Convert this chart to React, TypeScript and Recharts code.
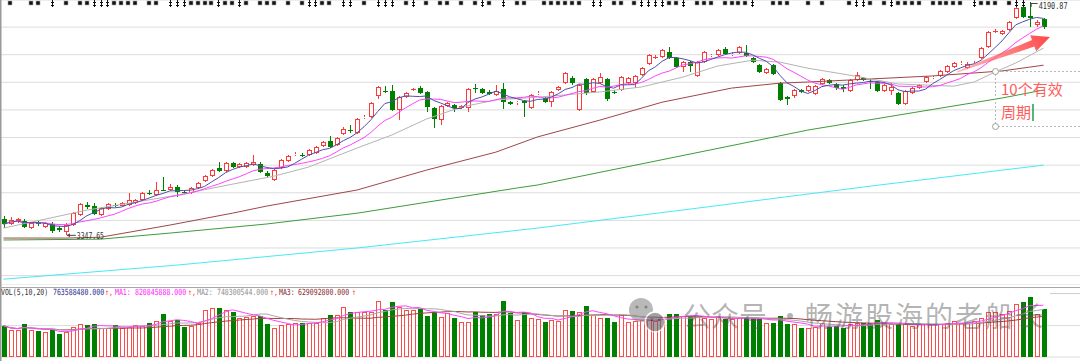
import { ComposedChart, Bar, Line, XAxis, YAxis, CartesianGrid, ReferenceDot } from 'recharts'

// daily candles, oldest first
const OPEN = [
  3405, 3386, 3397, 3397, 3372, 3390, 3376, 3386, 3372, 3357,
  3383, 3419, 3455, 3452, 3419, 3441, 3455, 3452, 3455, 3462,
  3473, 3499, 3492, 3510, 3510, 3520, 3504, 3499, 3517, 3542,
  3560, 3589, 3578, 3607, 3593, 3593, 3600, 3604, 3571, 3546,
  3589, 3615, 3638, 3636, 3636, 3644, 3669, 3687, 3673, 3712,
  3727, 3716, 3772, 3774, 3850, 3868, 3868, 3799, 3846, 3874,
  3879, 3865, 3807, 3763, 3814, 3818, 3807, 3807, 3879, 3875,
  3865, 3854, 3875, 3828, 3825, 3832, 3807, 3859, 3843, 3828,
  3872, 3897, 3915, 3799, 3912, 3865, 3897, 3912, 3865, 3872,
  3897, 3897, 3926, 3966, 3990, 3991, 4009, 3988, 3955, 3973,
  3923, 3973, 3997, 3999, 4020, 4000, 4006, 4006, 3988, 3962,
  3933, 3962, 3897, 3846, 3850, 3872, 3868, 3857, 3894, 3908,
  3894, 3883, 3868, 3908, 3915, 3906, 3901, 3868, 3868, 3861,
  3821, 3861, 3879, 3901, 3917, 3923, 3937, 3955, 3968, 3952,
  3968, 3988, 4028, 4084, 4075, 4089, 4133, 4172, 4140, 4107, 4129,
]
const CLOSE = [
  3386, 3401, 3405, 3376, 3390, 3388, 3390, 3361, 3366, 3383,
  3426, 3459, 3448, 3423, 3444, 3459, 3453, 3462, 3473, 3473,
  3499, 3497, 3510, 3508, 3520, 3502, 3501, 3517, 3535, 3560,
  3582, 3578, 3607, 3593, 3604, 3607, 3611, 3575, 3560, 3582,
  3618, 3633, 3640, 3635, 3655, 3665, 3683, 3665, 3698, 3731,
  3725, 3767, 3774, 3825, 3883, 3866, 3799, 3846, 3861, 3875,
  3861, 3810, 3767, 3814, 3825, 3807, 3814, 3875, 3877, 3861,
  3859, 3868, 3828, 3821, 3828, 3825, 3854, 3861, 3828, 3865,
  3883, 3933, 3897, 3890, 3861, 3912, 3919, 3839, 3863, 3919,
  3915, 3922, 3952, 3999, 3991, 4017, 3988, 3955, 3973, 3959,
  3973, 4009, 3999, 4017, 4002, 4002, 4028, 3995, 3973, 3937,
  3948, 3930, 3836, 3839, 3872, 3865, 3886, 3886, 3912, 3897,
  3879, 3875, 3908, 3926, 3908, 3904, 3868, 3890, 3883, 3821,
  3868, 3879, 3890, 3919, 3919, 3941, 3959, 3970, 3970, 3966,
  3970, 4024, 4082, 4086, 4086, 4118, 4169, 4136, 4133, 4118, 4100,
]
const HIGH = [
  3415, 3412, 3408, 3405, 3394, 3397, 3394, 3394, 3379, 3390,
  3430, 3462, 3466, 3462, 3448, 3462, 3462, 3466, 3499, 3477,
  3502, 3510, 3539, 3557, 3531, 3528, 3510, 3520, 3539, 3564,
  3586, 3611, 3611, 3611, 3607, 3611, 3636, 3611, 3578, 3586,
  3622, 3636, 3647, 3644, 3658, 3669, 3687, 3705, 3702, 3738,
  3745, 3770, 3781, 3828, 3886, 3886, 3890, 3850, 3865, 3879,
  3886, 3868, 3810, 3818, 3828, 3821, 3818, 3879, 3894, 3879,
  3872, 3890, 3897, 3832, 3832, 3836, 3857, 3868, 3846, 3868,
  3886, 3937, 3922, 3894, 3915, 3915, 3933, 3915, 3872, 3923,
  3919, 3926, 3955, 4002, 3999, 4020, 4028, 3991, 3977, 3977,
  3977, 4013, 4002, 4020, 4028, 4009, 4031, 4035, 3991, 3966,
  3952, 3966, 3901, 3850, 3875, 3875, 3890, 3890, 3915, 3912,
  3897, 3890, 3912, 3937, 3919, 3912, 3904, 3894, 3897, 3865,
  3872, 3883, 3894, 3923, 3923, 3944, 3962, 3973, 3977, 3973,
  3977, 4028, 4086, 4093, 4089, 4122, 4172, 4187, 4190.87, 4125, 4133,
]
const LOW = [
  3372, 3383, 3390, 3372, 3368, 3379, 3372, 3354, 3357, 3347.65,
  3379, 3415, 3441, 3419, 3415, 3437, 3448, 3448, 3452, 3459,
  3470, 3492, 3488, 3506, 3506, 3484, 3495, 3495, 3513, 3539,
  3557, 3575, 3575, 3589, 3589, 3589, 3597, 3571, 3553, 3542,
  3586, 3611, 3633, 3629, 3633, 3640, 3665, 3662, 3669, 3709,
  3716, 3713, 3767, 3770, 3839, 3861, 3795, 3763, 3843, 3868,
  3857, 3792, 3734, 3745, 3810, 3792, 3803, 3792, 3861, 3857,
  3854, 3850, 3803, 3818, 3818, 3774, 3803, 3854, 3825, 3810,
  3868, 3894, 3890, 3796, 3854, 3861, 3894, 3832, 3857, 3868,
  3894, 3879, 3923, 3962, 3984, 3988, 3984, 3952, 3937, 3937,
  3919, 3970, 3991, 3995, 3999, 3995, 4002, 3991, 3970, 3933,
  3930, 3926, 3832, 3818, 3843, 3861, 3865, 3854, 3890, 3894,
  3872, 3865, 3865, 3904, 3904, 3875, 3865, 3865, 3854, 3818,
  3818, 3857, 3875, 3897, 3912, 3919, 3933, 3952, 3962, 3948,
  3966, 3984, 4024, 4078, 4071, 4086, 4129, 4133, 4100, 4100, 4093,
]
// volume, millions of shares
const VOLUME = [
  498, 429, 429, 520, 429, 418, 402, 429, 361, 402,
  482, 525, 509, 529, 456, 456, 509, 456, 482, 509,
  498, 536, 577, 684, 577, 588, 482, 493, 536, 747,
  774, 774, 747, 711, 615, 631, 652, 652, 520, 456,
  509, 520, 545, 545, 545, 545, 625, 663, 668, 790,
  711, 711, 716, 716, 895, 747, 875, 800, 747, 747,
  763, 657, 716, 631, 695, 615, 552, 561, 716, 668,
  679, 679, 890, 704, 588, 711, 615, 599, 561, 588,
  577, 747, 731, 720, 811, 668, 615, 625, 561, 668,
  552, 577, 588, 588, 577, 631, 679, 684, 652, 641,
  641, 625, 604, 652, 599, 599, 615, 641, 615, 599,
  536, 545, 652, 520, 520, 466, 456, 482, 545, 482,
  493, 466, 520, 545, 536, 536, 588, 536, 520, 520,
  520, 493, 520, 520, 520, 520, 536, 572, 545, 545,
  572, 625, 711, 711, 679, 736, 845, 870, 955, 684, 764,
]

// longer averages at [candle, value]
const MA30_POINTS: [number, number][] = [
  [0, 3372], [12, 3437], [25, 3491], [33, 3531], [39, 3560], [44, 3593], [51, 3662],
  [56, 3709], [61, 3767], [66, 3810], [71, 3836], [77, 3846], [86, 3865], [92, 3883],
  [98, 3919], [103, 3959], [108, 3980], [112, 3973], [116, 3951], [122, 3926],
  [129, 3894], [137, 3886], [140, 3901], [143, 3937], [146, 3970], [150, 4024],
]
const MA60_POINTS: [number, number][] = [
  [0, 3336], [9, 3336], [14, 3339], [24, 3383], [33, 3426], [38, 3452], [51, 3510],
  [61, 3582], [71, 3647], [77, 3702], [86, 3763], [95, 3828], [105, 3879], [112, 3897],
  [116, 3901], [125, 3912], [134, 3923], [144, 3941], [150, 3962],
]
const MA120_POINTS: [number, number][] = [
  [0, 3329], [14, 3332], [24, 3354], [38, 3387], [51, 3426], [74, 3517], [77, 3528],
  [109, 3691], [116, 3727], [129, 3781], [144, 3843], [150, 3872],
]
const MA250_POINTS: [number, number][] = [
  [0, 3187], [25, 3238], [51, 3300], [77, 3372], [100, 3444], [125, 3524], [150, 3600],
]

// signal row along the top edge
const SIGNAL_SQUARE = [
  1, 4, 5, 9, 11, 12, 16, 17, 18, 19, 21, 22, 27, 28, 29, 30, 32, 33, 35, 37, 38, 39, 41, 43, 46, 47,
  52, 58, 61, 63, 64, 66, 68, 70, 74, 75, 78, 79, 80, 81, 82, 83, 88, 89, 91, 96, 97, 100, 101, 102,
  104, 105, 106, 107, 111, 112, 113, 116, 118, 122, 125, 127, 129, 130, 131, 132, 134, 135, 136,
  137, 138, 141, 142, 143, 145,
]
const SIGNAL_DAGGER = [
  7, 13, 14, 15, 24, 25, 26, 31, 34, 44, 45, 49, 50, 54, 55, 56, 59, 69, 72, 85, 86, 92, 93, 94, 95,
  98, 108, 123, 124, 128, 140, 146, 147,
]

const PRICE_TICKS = [3200, 3300, 3400, 3500, 3600, 3700, 3800, 3900, 4000, 4100]
const VOL_TICKS = [500]
const LOW_MARK = { index: 9, value: 3347.65 }
const HIGH_MARK = { index: 148, value: 4190.87 }
const VOL_LEGEND = ['763588480.000', '820845888.000', '748300544.000', '629092800.000']

const RED = '#ff3838'
const GREEN = '#008000'
const MONO = '"DejaVu Sans Mono", monospace'
const CJK = '"Noto Sans CJK SC", sans-serif'
const MARK_LEVEL = 4187
const SQUEEZE = 0.77

const avg = (arr: number[], n: number, i: number) => {
  const s = Math.max(0, i - n + 1)
  let sum = 0
  for (let k = s; k <= i; k++) sum += arr[k]
  return sum / (i - s + 1)
}
const lookup = (pts: [number, number][]) => {
  const m = new Map(pts)
  return (i: number) => (m.has(i) ? m.get(i) : null)
}
const ma30 = lookup(MA30_POINTS)
const ma60 = lookup(MA60_POINTS)
const ma120 = lookup(MA120_POINTS)
const ma250 = lookup(MA250_POINTS)

const rows = OPEN.map((o, i) => ({
  i,
  open: o,
  close: CLOSE[i],
  high: HIGH[i],
  low: LOW[i],
  range: [LOW[i], HIGH[i]],
  vol: VOLUME[i],
  ma5: avg(CLOSE, 5, i),
  ma10: avg(CLOSE, 10, i),
  ma30: ma30(i),
  ma60: ma60(i),
  ma120: ma120(i),
  ma250: ma250(i),
  vma5: avg(VOLUME, 5, i),
  vma10: avg(VOLUME, 10, i),
  vma20: avg(VOLUME, 20, i),
  mark: SIGNAL_SQUARE.includes(i) ? 'square' : SIGNAL_DAGGER.includes(i) ? 'dagger' : null,
}))

function Candle(props: any) {
  const { x, y, width, height, payload } = props
  if (x == null || y == null || !payload) return <g />
  const top = Math.min(y, y + height)
  const bottom = Math.max(y, y + height)
  const span = payload.high - payload.low || 1
  const py = (p: number) => top + ((payload.high - p) / span) * (bottom - top)
  const cx = Math.round(x + width / 2)
  const up = payload.close >= payload.open
  const color = up ? RED : GREEN
  const hi = Math.round(top)
  const lo = Math.round(bottom)
  const bTop = Math.round(py(Math.max(payload.open, payload.close)))
  const bBot = Math.round(py(Math.min(payload.open, payload.close)))
  const wx = cx + 0.5
  if (bBot - bTop < 1) {
    return (
      <g>
        <line x1={wx} x2={wx} y1={hi} y2={lo} stroke={color} />
        <line x1={cx - 2} x2={cx + 3} y1={bTop + 0.5} y2={bTop + 0.5} stroke={color} />
      </g>
    )
  }
  if (up) {
    return (
      <g>
        <line x1={wx} x2={wx} y1={hi} y2={bTop} stroke={color} />
        <line x1={wx} x2={wx} y1={bBot} y2={lo} stroke={color} />
        <rect x={cx - 1.5} y={bTop + 0.5} width={4} height={Math.max(bBot - bTop - 1, 0)} fill="#fff" stroke={color} />
      </g>
    )
  }
  return (
    <g>
      <line x1={wx} x2={wx} y1={hi} y2={lo} stroke={color} />
      <rect x={cx - 2} y={bTop} width={5} height={bBot - bTop} fill={color} />
    </g>
  )
}

function VolumeBar(props: any) {
  const { x, y, width, height, payload } = props
  if (x == null || y == null || !payload) return <g />
  const cx = Math.round(x + width / 2)
  const top = Math.round(Math.min(y, y + height))
  const bottom = Math.round(Math.max(y, y + height))
  if (payload.close >= payload.open) {
    return <rect x={cx - 1.5} y={top + 0.5} width={4} height={Math.max(bottom - top - 1, 0)} fill="#fff" stroke="#ff4a4a" />
  }
  return <rect x={cx - 2} y={top} width={5} height={bottom - top} fill={GREEN} />
}

function SignalMark(props: any) {
  const { cx, cy, payload, index } = props
  const key = `sig-${index}`
  if (cx == null || cy == null || !payload || !payload.mark) return <g key={key} />
  const x = Math.round(cx)
  const y = Math.round(cy)
  if (payload.mark === 'square') {
    return <rect key={key} x={x - 2} y={y - 2} width={4} height={4} fill="#111" stroke="#aaa" strokeWidth={0.6} />
  }
  return (
    <g key={key} stroke="#111">
      <line x1={x + 0.5} x2={x + 0.5} y1={y - 3} y2={y + 4} />
      <line x1={x - 1} x2={x + 2} y1={y - 0.5} y2={y - 0.5} />
      <line x1={x - 1} x2={x + 2} y1={y + 2.5} y2={y + 2.5} />
    </g>
  )
}

function LowTag(props: any) {
  const { cx, cy } = props
  if (cx == null || cy == null) return <g />
  return (
    <g>
      <line x1={cx + 1} x2={cx + 10} y1={cy + 0.5} y2={cy + 0.5} stroke="#444" />
      <path d={`M${cx + 1},${cy + 0.5} l3,-2 v4 z`} fill="#444" />
      <text x={cx + 11} y={cy + 4} fontSize={9} fontFamily={MONO} fill="#333" textLength={27} lengthAdjust="spacingAndGlyphs">
        {LOW_MARK.value.toFixed(2)}
      </text>
    </g>
  )
}

function HighTag(props: any) {
  const { cx, cy } = props
  if (cx == null || cy == null) return <g />
  return (
    <g>
      <line x1={cx + 1} x2={cx + 8} y1={cy + 1.5} y2={cy + 1.5} stroke="#444" />
      <line x1={cx + 1.5} x2={cx + 1.5} y1={cy + 1} y2={cy + 5} stroke="#444" />
      <text x={cx + 9} y={cy + 7} fontSize={9} fontFamily={MONO} fill="#333" textLength={29} lengthAdjust="spacingAndGlyphs">
        {HIGH_MARK.value.toFixed(2)}
      </text>
    </g>
  )
}

const legendParts = [
  { x: 1, t: 'VOL(5,10,20)', c: '#333' },
  { x: 53, t: VOL_LEGEND[0], c: '#2b2b8f' },
  { x: 105, t: '↑,', c: '#ff2020' },
  { x: 115, t: 'MA1:', c: '#ff22ff' },
  { x: 135, t: VOL_LEGEND[1], c: '#ff22ff' },
  { x: 188, t: '↑,', c: '#ff2020' },
  { x: 197, t: 'MA2:', c: '#909090' },
  { x: 217, t: VOL_LEGEND[2], c: '#909090' },
  { x: 270, t: '↑,', c: '#ff2020' },
  { x: 279, t: 'MA3:', c: '#8b2a2a' },
  { x: 298, t: VOL_LEGEND[3], c: '#8b2a2a' },
  { x: 352, t: '↑', c: '#ff2020' },
]

function Overlay() {
  return (
    <svg width={1080} height={361} style={{ position: 'absolute', left: 0, top: 0, pointerEvents: 'none' }}>
      <defs>
        <linearGradient id="arrowFill" x1="957" y1="72" x2="1050" y2="37" gradientUnits="userSpaceOnUse">
          <stop offset="0" stopColor="#ff7a7a" stopOpacity={0.55} />
          <stop offset="1" stopColor="#ff4848" />
        </linearGradient>
      </defs>
      <line x1={0.75} x2={0.75} y1={0} y2={361} stroke="#9a9a9a" strokeWidth={1.5} />
      <line x1={0} x2={1080} y1={287.5} y2={287.5} stroke="#a8a8a8" />
      <line x1={1050} x2={1080} y1={293.5} y2={293.5} stroke="#cfcfcf" />

      {/* volume legend, narrow bitmap-like font */}
      <g transform={`scale(${SQUEEZE},1)`} fontSize={8.5} fontFamily={MONO}>
        {legendParts.map((p, k) => (
          <text key={k} x={p.x / SQUEEZE} y={295} fill={p.c}>
            {p.t}
          </text>
        ))}
      </g>

      {/* drawn trend arrow */}
      <polygon
        points="956.8,71.5 1032,40 1030.2,35.3 1050,37 1036.2,51.3 1034.4,46.6 957.2,72.5"
        fill="url(#arrowFill)"
      />

      {/* dashed annotation box */}
      <g stroke="#b8b8b8" strokeDasharray="2 2">
        <line x1={995.5} x2={995.5} y1={74} y2={123} />
        <line x1={998} x2={1080} y1={71.5} y2={71.5} />
        <line x1={998} x2={1080} y1={126.5} y2={126.5} />
      </g>
      <circle cx={995.5} cy={71.5} r={3} fill="#fff" stroke="#a0a0a0" />
      <circle cx={995.5} cy={126.5} r={3} fill="#fff" stroke="#a0a0a0" />
      <text x={1001} y={95} fontSize={15} fontFamily={CJK} fill="#ff5c5c">10个有效</text>
      <text x={1001} y={118} fontSize={15} fontFamily={CJK} fill="#ff5c5c">周期</text>
      <line x1={1033} x2={1033} y1={104} y2={121} stroke="#18a048" strokeWidth={1.5} />

      {/* watermark */}
      <g opacity={0.6}>
        <circle cx={641} cy={310} r={12} fill="#8c8c8c" />
        <circle cx={637} cy={307} r={1.6} fill="#333" />
        <circle cx={646} cy={307} r={1.6} fill="#333" />
        <circle cx={655} cy={322} r={10} fill="#666" stroke="#fff" strokeWidth={1.5} />
        <circle cx={652} cy={320} r={1.3} fill="#222" />
        <circle cx={659} cy={320} r={1.3} fill="#222" />
      </g>
      <g fontFamily={CJK} fontSize={28} fill="#555" fillOpacity={0.45}>
        <text x={683} y={327}>公众号</text>
        <text x={776} y={327}>·</text>
        <text x={805} y={327} letterSpacing={2}>畅游股海的老船长</text>
      </g>
    </svg>
  )
}

export default function App() {
  return (
    <div style={{ position: 'relative', width: 1080, height: 361, overflow: 'hidden', background: '#fff' }}>
      <style>{'body{margin:0}'}</style>

      {/* price panel */}
      <div style={{ position: 'absolute', left: 0, top: 0 }}>
        <ComposedChart width={1080} height={285} data={rows} margin={{ top: 0, right: 0, bottom: 0, left: 0 }}>
          <CartesianGrid vertical={false} stroke="#dcdcdc" />
          <XAxis dataKey="i" hide padding={{ left: 0, right: 33 }} />
          <YAxis hide domain={[3166, 4198]} ticks={PRICE_TICKS} allowDataOverflow />
          <Line dataKey="ma250" stroke="#48e8f8" strokeWidth={1} dot={false} activeDot={false} connectNulls isAnimationActive={false} />
          <Line dataKey="ma120" stroke="#3c9c3c" strokeWidth={1} dot={false} activeDot={false} connectNulls isAnimationActive={false} />
          <Line dataKey="ma60" stroke="#a04646" strokeWidth={1} dot={false} activeDot={false} connectNulls isAnimationActive={false} />
          <Line dataKey="ma30" stroke="#b4b4b4" strokeWidth={1} dot={false} activeDot={false} connectNulls isAnimationActive={false} />
          <Bar dataKey="range" shape={Candle} isAnimationActive={false} />
          <Line dataKey="ma10" stroke="#ff44ff" strokeWidth={1} dot={false} activeDot={false} isAnimationActive={false} />
          <Line dataKey="ma5" stroke="#5050a8" strokeWidth={1} dot={false} activeDot={false} isAnimationActive={false} />
          <Line
            dataKey={(r: any) => (r.mark ? MARK_LEVEL : null)}
            stroke="none"
            dot={SignalMark}
            activeDot={false}
            isAnimationActive={false}
          />
          <ReferenceDot x={LOW_MARK.index} y={LOW_MARK.value} r={0} shape={LowTag} />
          <ReferenceDot x={HIGH_MARK.index} y={HIGH_MARK.value} r={0} shape={HighTag} />
        </ComposedChart>
      </div>

      {/* volume panel */}
      <div style={{ position: 'absolute', left: 0, top: 287 }}>
        <ComposedChart width={1080} height={74} data={rows} margin={{ top: 0, right: 0, bottom: 4, left: 0 }}>
          <CartesianGrid vertical={false} stroke="#dcdcdc" />
          <XAxis dataKey="i" hide padding={{ left: 0, right: 33 }} />
          <YAxis hide domain={[0, 1113]} ticks={VOL_TICKS} allowDataOverflow />
          <Bar dataKey="vol" shape={VolumeBar} isAnimationActive={false} />
          <Line dataKey="vma20" stroke="#a04040" strokeWidth={1} dot={false} activeDot={false} isAnimationActive={false} />
          <Line dataKey="vma10" stroke="#a8a8a8" strokeWidth={1} dot={false} activeDot={false} isAnimationActive={false} />
          <Line dataKey="vma5" stroke="#ff44ff" strokeWidth={1} dot={false} activeDot={false} isAnimationActive={false} />
        </ComposedChart>
      </div>

      <Overlay />
    </div>
  )
}
